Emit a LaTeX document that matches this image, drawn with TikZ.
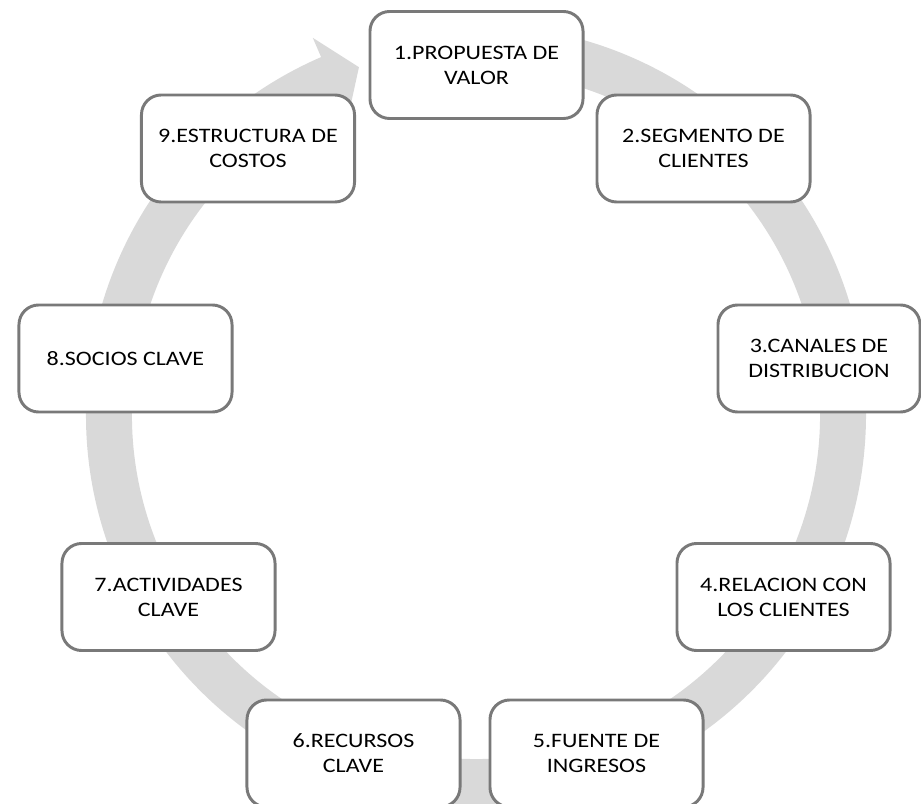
\documentclass[tikz,border=0pt]{standalone}
\usepackage{fontspec}
\setmainfont[FakeStretch=1.17]{Carlito}
\usepackage{tikz}

\begin{document}
\begin{tikzpicture}[x=0.025cm, y=0.025cm,
	caja/.style={draw=gray!95!black, line width=2.1pt, fill=white, rounded corners=14pt,
		minimum width=5.325cm, minimum height=2.675cm, align=center, inner sep=2pt,
		font=\fontsize{14.6}{17.7}\selectfont},
	anillo/.style={fill=black!15}]
	%\draw[help lines] (0,0) grid[step=50] (921,803);
	\useasboundingbox (0,0) rectangle (921,803);
	\begin{scope}[shift={(476,388)}]
		\fill[anillo] (85:390) arc[start angle=85, end angle=-246.6, radius=390] -- (-246.6:411) -- (-251.4:367) -- (-246.6:323) -- (-246.6:344) arc[start angle=-246.6, end angle=85, radius=344] -- cycle;
	\end{scope}
	\node[caja] (propuesta) at (476.5,738) {1.PROPUESTA DE\\VALOR};
	\node[caja] (segmento) at (703.5,654.5) {2.SEGMENTO DE\\CLIENTES};
	\node[caja, minimum width=5.05cm] (canales) at (819,444.5) {3.CANALES DE\\DISTRIBUCION};
	\node[caja] (relacion) at (783.5,206) {4.RELACION CON\\LOS CLIENTES};
	\node[caja] (fuente) at (596.5,49.5) {5.FUENTE DE\\INGRESOS};
	\node[caja] (recursos) at (353.5,49.5) {6.RECURSOS\\CLAVE};
	\node[caja] (actividades) at (168.5,206) {7.ACTIVIDADES\\CLAVE};
	\node[caja] (socios) at (125.5,444.5) {8.SOCIOS CLAVE};
	\node[caja] (costos) at (248,654.5) {9.ESTRUCTURA DE\\COSTOS};
\end{tikzpicture}
\end{document}
